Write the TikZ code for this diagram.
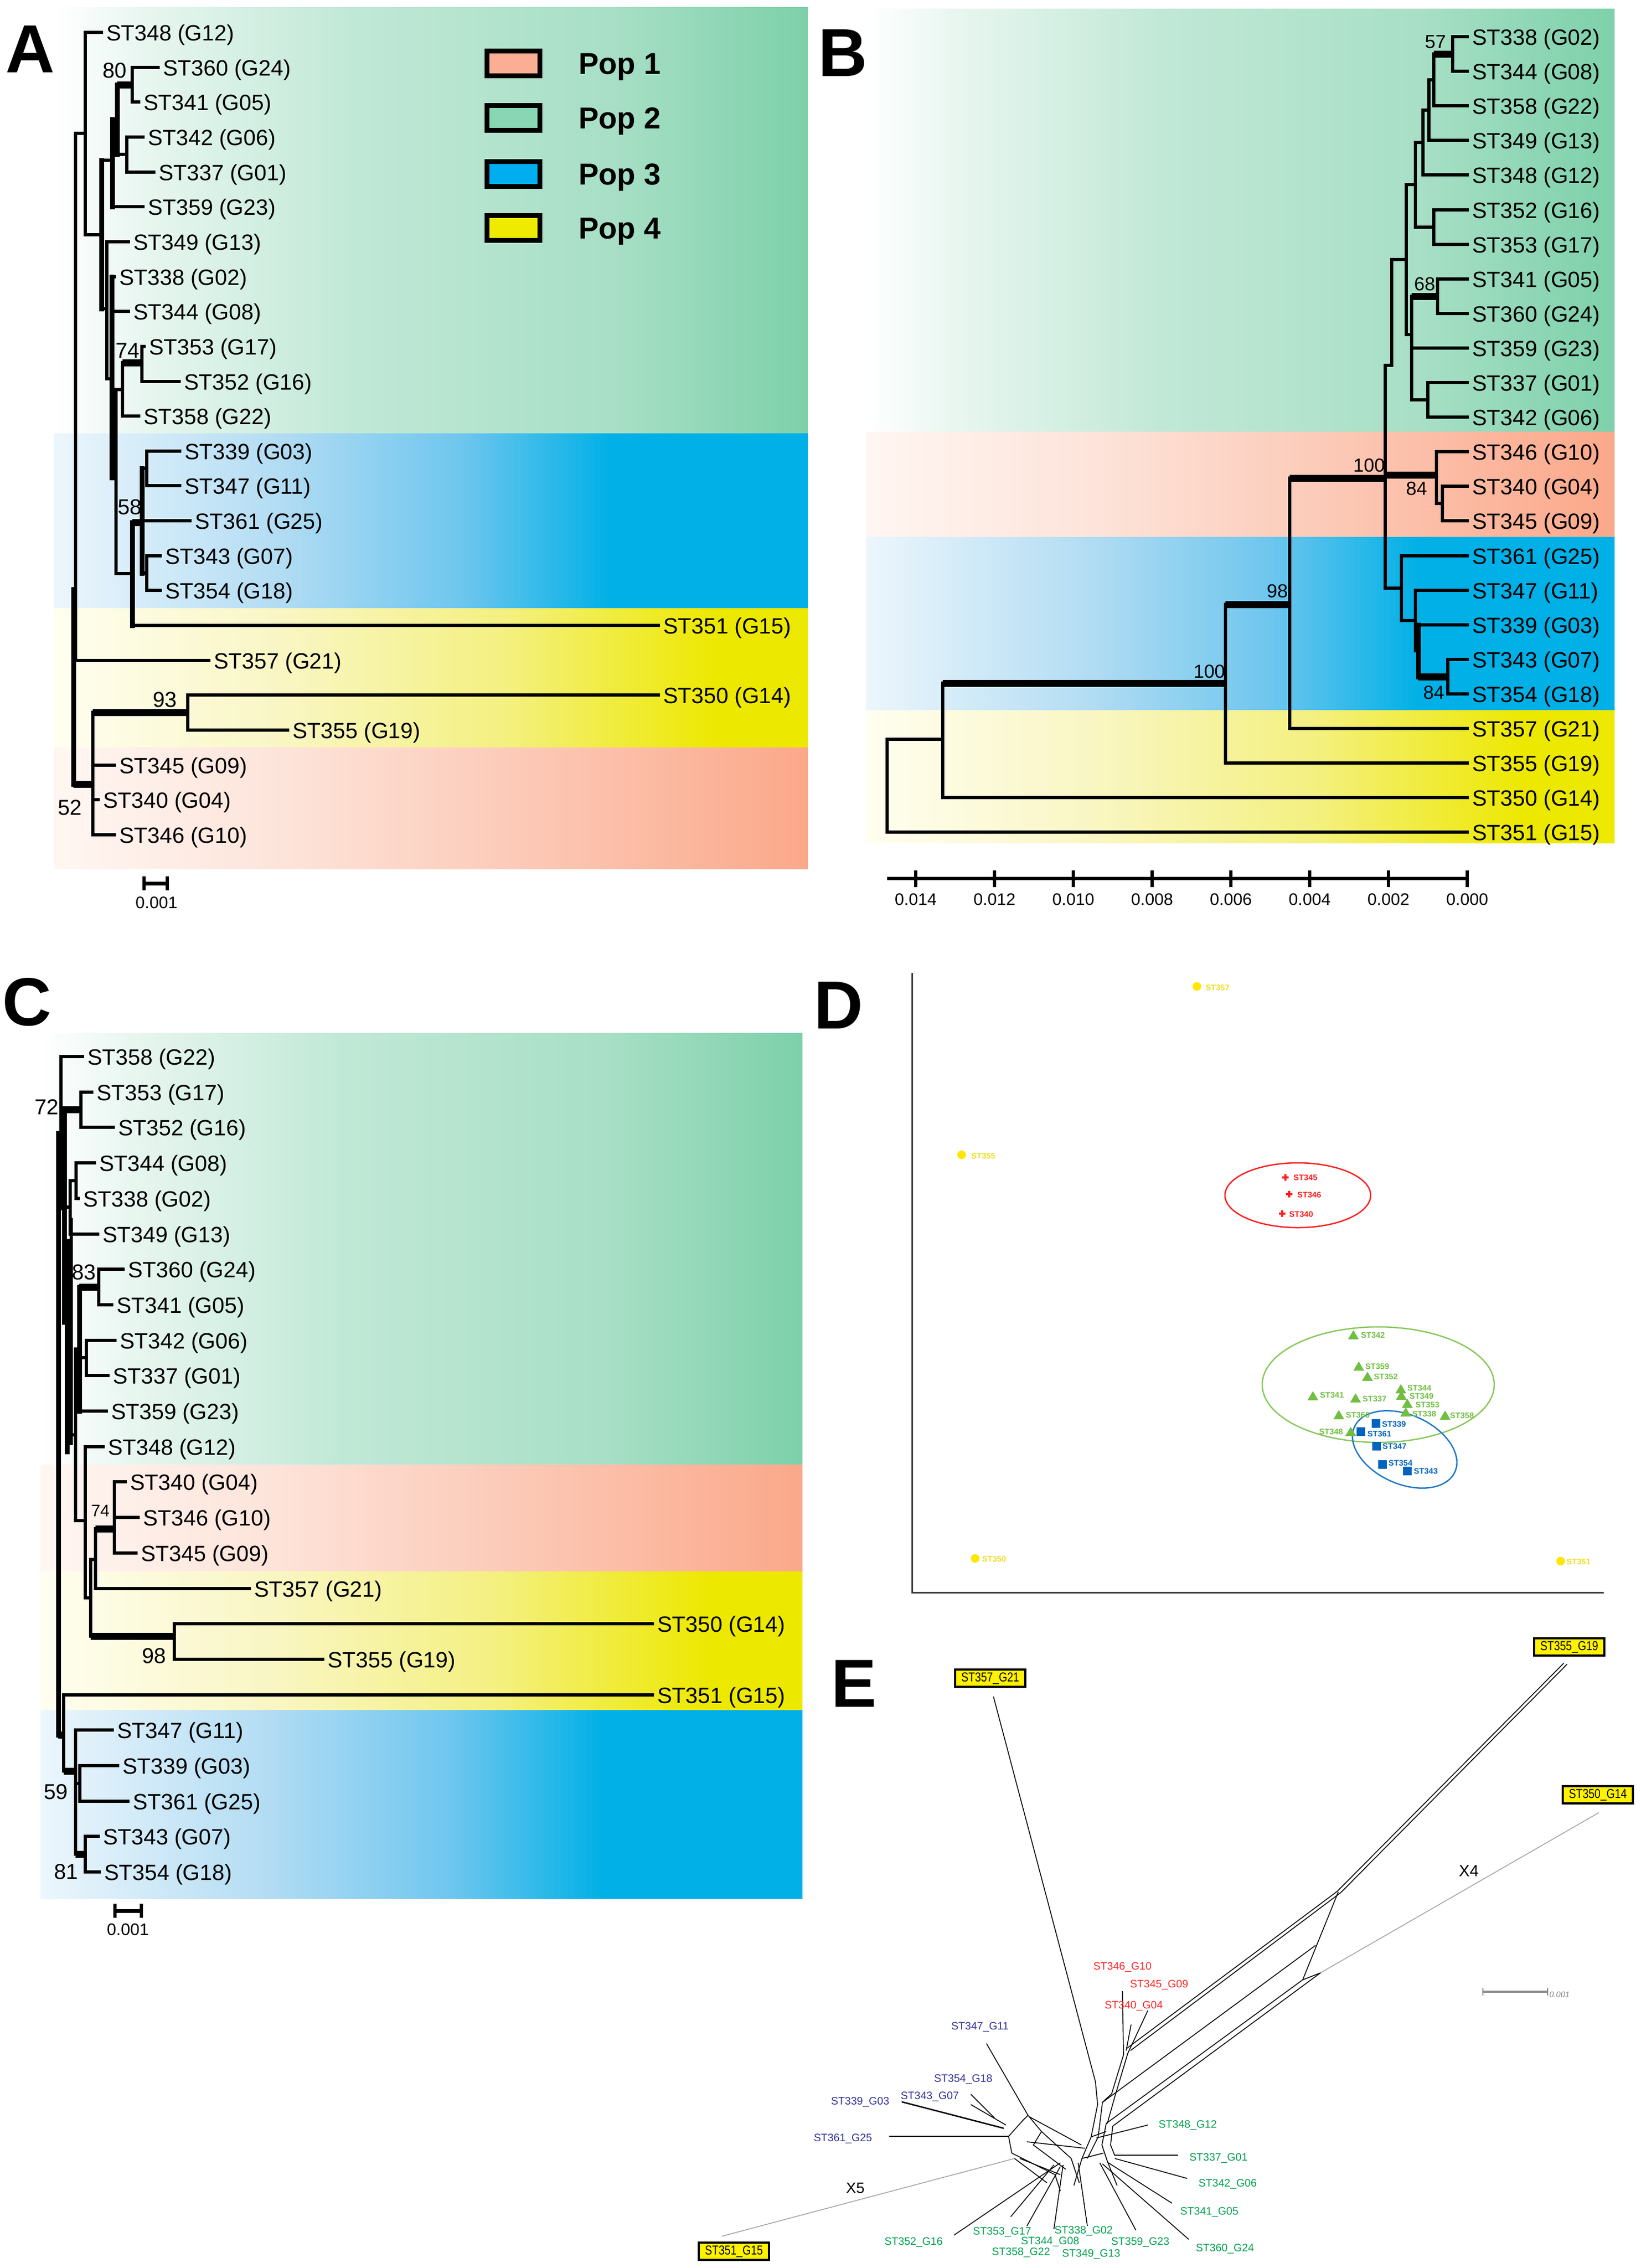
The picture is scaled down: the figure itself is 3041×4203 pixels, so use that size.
\documentclass[tikz,border=0pt]{standalone}
\usepackage{fontspec}
\setmainfont{Liberation Sans}
\newfontfamily\narrowfont[FakeStretch=0.83]{Liberation Sans}
\definecolor{gA}{RGB}{232,246,240}
\definecolor{gB}{RGB}{192,232,214}
\definecolor{gC}{RGB}{168,223,198}
\definecolor{gD}{RGB}{125,208,170}
\definecolor{pA}{RGB}{255,246,242}
\definecolor{pB}{RGB}{253,228,218}
\definecolor{pC}{RGB}{252,203,185}
\definecolor{pD}{RGB}{251,168,138}
\definecolor{bA}{RGB}{236,246,252}
\definecolor{bB}{RGB}{178,220,243}
\definecolor{bC}{RGB}{110,198,238}
\definecolor{bD}{RGB}{0,176,230}
\definecolor{yA}{RGB}{255,254,240}
\definecolor{yB}{RGB}{249,246,196}
\definecolor{yC}{RGB}{244,240,128}
\definecolor{yD}{RGB}{237,232,0}
\definecolor{legP}{RGB}{251,174,148}
\definecolor{legG}{RGB}{136,214,180}
\definecolor{legB}{RGB}{0,174,239}
\definecolor{legY}{RGB}{238,234,0}
\definecolor{dYel}{RGB}{255,230,0}
\definecolor{dYelT}{RGB}{236,222,40}
\definecolor{dRed}{RGB}{255,30,30}
\definecolor{dGrn}{RGB}{112,190,66}
\definecolor{dGrnE}{RGB}{135,200,90}
\definecolor{dBlu}{RGB}{0,100,190}
\definecolor{dBluE}{RGB}{30,120,200}
\definecolor{eRed}{RGB}{255,40,40}
\definecolor{eBlu}{RGB}{50,50,150}
\definecolor{eGrn}{RGB}{0,160,80}
\definecolor{eYel}{RGB}{255,242,0}
\definecolor{eGry}{RGB}{165,165,165}
\pgfdeclarehorizontalshading{gband}{100bp}{color(0bp)=(white); color(25bp)=(white); color(31bp)=(gA); color(45bp)=(gB); color(62bp)=(gC); color(75bp)=(gD); color(100bp)=(gD)}
\pgfdeclarehorizontalshading{pband}{100bp}{color(0bp)=(pA); color(25bp)=(pA); color(40bp)=(pB); color(55bp)=(pC); color(75bp)=(pD); color(100bp)=(pD)}
\pgfdeclarehorizontalshading{bband}{100bp}{color(0bp)=(bA); color(25bp)=(bA); color(40bp)=(bB); color(52bp)=(bC); color(62bp)=(bD); color(100bp)=(bD)}
\pgfdeclarehorizontalshading{yband}{100bp}{color(0bp)=(yA); color(25bp)=(yA); color(40bp)=(yB); color(55bp)=(yC); color(69bp)=(yD); color(100bp)=(yD)}
\tikzset{
  tl/.style={line width=6pt, line cap=rect},
  tkh/.style={line width=13pt},
  tkv/.style={line width=9pt, line cap=rect},
  tlab/.style={font=\fontsize{41}{41}\selectfont, anchor=base west, inner sep=0pt},
  sv/.style={font=\fontsize{40}{40}\selectfont, inner sep=0pt},
  svb/.style={font=\fontsize{35}{35}\selectfont, inner sep=0pt},
  svs/.style={font=\fontsize{31}{31}\selectfont, inner sep=0pt},
  panel/.style={font=\bfseries\fontsize{126}{126}\selectfont, inner sep=0pt},
  legbox/.style={draw=black, line width=9pt, minimum width=98pt, minimum height=46pt, inner sep=0pt},
  legtxt/.style={font=\bfseries\fontsize{56}{56}\selectfont, anchor=base west, inner sep=0pt},
  dlab/.style={font=\bfseries\fontsize{15}{15}\selectfont, anchor=west, inner sep=0pt},
  ebox/.style={draw=black, line width=3.5pt, fill=eYel, font=\narrowfont\fontsize{24}{24}\selectfont, minimum width=130pt, minimum height=32pt, inner sep=0pt},
  elab/.style={font=\fontsize{20}{20}\selectfont, inner sep=0pt},
  enet/.style={line width=1.6pt, black},
  egry/.style={line width=1.6pt, eGry},
}
\newcommand\Hs[3]{\draw[tl] (#1,#3) -- (#2,#3);}
\newcommand\Vs[3]{\draw[tl] (#1,#2) -- (#1,#3);}
\newcommand\Hk[3]{\draw[tkh] (#1,#3) -- (#2,#3);}
\newcommand\Vk[3]{\draw[tkv] (#1,#2) -- (#1,#3);}
\newcommand\Tip[5]{\draw[tl] (#1,#3) -- (#2,#3); \node[tlab] (#4) at ({#2+9},{#3+15}) {#5};}
\newcommand\Tri[2]{\fill[dGrn] ({#1-10},{#2+8}) -- ({#1+10},{#2+8}) -- (#1,{#2-9}) -- cycle;}
\newcommand\Sqr[2]{\fill[dBlu] ({#1-8},{#2-8}) rectangle ({#1+8},{#2+8});}
\newcommand\Crs[2]{\draw[dRed, line width=4pt] ({#1-6},#2) -- ({#1+6},#2) (#1,{#2-6}) -- (#1,{#2+6});}
\begin{document}
\begin{tikzpicture}[x=1pt,y=-1pt]
\useasboundingbox (0,0) rectangle (3041,4203);
\fill[white] (0,0) rectangle (3041,4203);
% ================= PANEL A =================
\shade[shading=gband] (100,13) rectangle (1497,803);
\shade[shading=bband] (100,803) rectangle (1497,1127);
\shade[shading=yband] (100,1127) rectangle (1497,1385);
\shade[shading=pband] (100,1385) rectangle (1497,1610);
\node[panel] (pA) at (56,91) {A};
% legend
\node[legbox, fill=legP] (l1) at (951,117) {};
\node[legbox, fill=legG] (l2) at (951,218) {};
\node[legbox, fill=legB] (l3) at (951,322) {};
\node[legbox, fill=legY] (l4) at (951,422) {};
\node[legtxt] (t1) at (1072,137) {Pop 1};
\node[legtxt] (t2) at (1072,238) {Pop 2};
\node[legtxt] (t3) at (1072,342) {Pop 3};
\node[legtxt] (t4) at (1072,442) {Pop 4};
% tips
\Tip{158}{188}{60}{a348}{ST348 (G12)}
\Tip{245}{293}{125}{a360}{ST360 (G24)}
\Tip{245}{257}{189}{a341}{ST341 (G05)}
\Tip{235}{265}{254}{a342}{ST342 (G06)}
\Tip{235}{285}{319}{a337}{ST337 (G01)}
\Tip{208}{265}{383}{a359}{ST359 (G23)}
\Tip{198}{238}{448}{a349}{ST349 (G13)}
\Tip{207}{212}{513}{a338}{ST338 (G02)}
\Tip{207}{238}{577}{a344}{ST344 (G08)}
\Tip{263}{267}{642}{a353}{ST353 (G17)}
\Tip{263}{332}{707}{a352}{ST352 (G16)}
\Tip{227}{257}{771}{a358}{ST358 (G22)}
\Tip{272}{333}{836}{a339}{ST339 (G03)}
\Tip{272}{333}{900}{a347}{ST347 (G11)}
\Tip{263}{352}{965}{a361}{ST361 (G25)}
\Tip{272}{297}{1030}{a343}{ST343 (G07)}
\Tip{272}{297}{1094}{a354}{ST354 (G18)}
\Tip{245}{1220}{1159}{a351}{ST351 (G15)}
\Tip{140}{387}{1224}{a357}{ST357 (G21)}
\Tip{348}{1220}{1288}{a350}{ST350 (G14)}
\Tip{348}{533}{1353}{a355}{ST355 (G19)}
\Tip{172}{212}{1418}{a345}{ST345 (G09)}
\Tip{172}{182}{1482}{a340}{ST340 (G04)}
\Tip{172}{212}{1547}{a346}{ST346 (G10)}
% internal
\Vs{245}{125}{189} \Hk{217}{245}{157}
\Vs{235}{254}{319} \Hs{217}{235}{286}
\Vk{217}{157}{286} \Hs{208}{217}{221}
\Vk{208}{221}{383} \Hs{188}{208}{297}
\Vs{263}{642}{707} \Hk{227}{263}{672}
\Vs{227}{672}{771} \Hs{215}{227}{722}
\Vs{272}{836}{900} \Hs{263}{272}{868}
\Vs{272}{1030}{1094} \Hs{263}{272}{1062}
\Vk{263}{868}{1062} \Hk{245}{263}{968}
\Vk{245}{968}{1159} \Hs{215}{245}{1063}
\Vs{215}{722}{1063} \Hs{207}{215}{885}
\Vk{207}{513}{885} \Hs{198}{207}{702}
\Vs{198}{448}{702} \Hs{188}{198}{572}
\Vk{188}{297}{572} \Hs{158}{188}{435}
\Vs{158}{60}{435} \Hs{140}{158}{247}
\Vs{140}{247}{1224}
\Vk{136}{1092}{1453} \Hk{136}{172}{1453}
\Vs{172}{1320}{1547} \Hk{172}{348}{1320}
\Vs{348}{1288}{1353}
\node[sv] (a80) at (213,131) {80};
\node[sv] (a74) at (237,650) {74};
\node[sv] (a58) at (241,940) {58};
\node[sv] (a93) at (306,1297) {93};
\node[sv] (a52) at (130,1497) {52};
% scale bar A
\draw[line width=7pt] (267,1637) -- (310,1637);
\draw[line width=6pt] (267,1624) -- (267,1650) (310,1624) -- (310,1650);
\node[svs] (asc) at (290,1673) {0.001};
% ================= PANEL B =================
\shade[shading=gband] (1605,16) rectangle (2992,800);
\shade[shading=pband] (1605,800) rectangle (2992,995);
\shade[shading=bband] (1605,995) rectangle (2992,1316);
\shade[shading=yband] (1605,1316) rectangle (2992,1562);
\node[panel] (pB) at (1562,98) {B};
\Tip{2692}{2719}{68}{b338}{ST338 (G02)}
\Tip{2692}{2719}{132}{b344}{ST344 (G08)}
\Tip{2657}{2719}{196}{b358}{ST358 (G22)}
\Tip{2648}{2719}{260}{b349}{ST349 (G13)}
\Tip{2637}{2719}{324}{b348}{ST348 (G12)}
\Tip{2657}{2719}{389}{b352}{ST352 (G16)}
\Tip{2657}{2719}{453}{b353}{ST353 (G17)}
\Tip{2664}{2719}{517}{b341}{ST341 (G05)}
\Tip{2664}{2719}{581}{b360}{ST360 (G24)}
\Tip{2616}{2719}{645}{b359}{ST359 (G23)}
\Tip{2646}{2719}{709}{b337}{ST337 (G01)}
\Tip{2646}{2719}{773}{b342}{ST342 (G06)}
\Tip{2662}{2719}{837}{b346}{ST346 (G10)}
\Tip{2673}{2719}{901}{b340}{ST340 (G04)}
\Tip{2673}{2719}{965}{b345}{ST345 (G09)}
\Tip{2597}{2719}{1030}{b361}{ST361 (G25)}
\Tip{2623}{2719}{1094}{b347}{ST347 (G11)}
\Tip{2628}{2719}{1158}{b339}{ST339 (G03)}
\Tip{2683}{2719}{1222}{b343}{ST343 (G07)}
\Tip{2683}{2719}{1286}{b354}{ST354 (G18)}
\Tip{2390}{2719}{1350}{b357}{ST357 (G21)}
\Tip{2271}{2719}{1414}{b355}{ST355 (G19)}
\Tip{1747}{2719}{1478}{b350}{ST350 (G14)}
\Tip{1644}{2719}{1542}{b351}{ST351 (G15)}
\Vs{2692}{68}{132} \Hk{2657}{2692}{100}
\Vs{2657}{100}{196}
\Hs{2648}{2657}{148} \Vs{2648}{148}{260}
\Hs{2637}{2648}{204} \Vs{2637}{204}{324}
\Hs{2623}{2637}{264} \Vs{2623}{264}{421} \Hs{2623}{2657}{421} \Vs{2657}{389}{453}
\Hs{2606}{2623}{342} \Vs{2606}{342}{620}
\Hk{2616}{2664}{549} \Vs{2664}{517}{581}
\Vs{2616}{549}{741} \Hs{2616}{2646}{741} \Vs{2646}{709}{773}
\Hs{2606}{2616}{620}
\Hs{2579}{2606}{481} \Vs{2579}{481}{677} \Hs{2567}{2579}{677}
\Vs{2567}{677}{1090}
\Hk{2567}{2662}{880} \Vs{2662}{837}{933} \Hs{2662}{2673}{933} \Vs{2673}{901}{965}
\Hs{2567}{2597}{1090} \Vs{2597}{1030}{1150} \Hs{2597}{2623}{1150} \Vs{2623}{1094}{1206} \Hs{2623}{2628}{1206}
\Vk{2628}{1158}{1254} \Hk{2628}{2683}{1254} \Vs{2683}{1222}{1286}
\Hk{2390}{2567}{886} \Vs{2390}{886}{1350}
\Hk{2271}{2390}{1120} \Vs{2271}{1120}{1414}
\Hk{1747}{2271}{1266} \Vs{1747}{1266}{1478}
\Hs{1644}{1747}{1370} \Vs{1644}{1370}{1542}
\node[svb] (b57) at (2660,78) {57};
\node[svb] (b68) at (2640,526) {68};
\node[svb] (b100a) at (2537,862) {100};
\node[svb] (b84a) at (2625,905) {84};
\node[svb] (b98) at (2367,1095) {98};
\node[svb] (b100b) at (2241,1244) {100};
\node[svb] (b84b) at (2657,1283) {84};
% axis B
\draw[line width=6pt] (1644,1628) -- (2719,1628);
\foreach \xx/\tt in {1697/0.014,1843/0.012,1989/0.010,2135/0.008,2281/0.006,2427/0.004,2573/0.002,2719/0.000}{
  \draw[line width=6pt] (\xx,1613) -- (\xx,1644);
  \node[svs] at (\xx,1667) {\tt};
}
% ================= PANEL C =================
\shade[shading=gband] (75,1914) rectangle (1487,2714);
\shade[shading=pband] (75,2714) rectangle (1487,2912);
\shade[shading=yband] (75,2912) rectangle (1487,3169);
\shade[shading=bband] (75,3169) rectangle (1487,3518);
\node[panel] (pC) at (50,1857) {C};
\Tip{113}{153}{1958}{c358}{ST358 (G22)}
\Tip{150}{170}{2024}{c353}{ST353 (G17)}
\Tip{150}{210}{2089}{c352}{ST352 (G16)}
\Tip{141}{175}{2155}{c344}{ST344 (G08)}
\Tip{141}{145}{2221}{c338}{ST338 (G02)}
\Tip{130}{181}{2287}{c349}{ST349 (G13)}
\Tip{183}{228}{2352}{c360}{ST360 (G24)}
\Tip{183}{207}{2418}{c341}{ST341 (G05)}
\Tip{160}{213}{2484}{c342}{ST342 (G06)}
\Tip{160}{200}{2549}{c337}{ST337 (G01)}
\Tip{147}{197}{2615}{c359}{ST359 (G23)}
\Tip{158}{191}{2681}{c348}{ST348 (G12)}
\Tip{212}{232}{2746}{c340}{ST340 (G04)}
\Tip{212}{256}{2812}{c346}{ST346 (G10)}
\Tip{212}{252}{2878}{c345}{ST345 (G09)}
\Tip{177}{462}{2944}{c357}{ST357 (G21)}
\Tip{323}{1209}{3009}{c350}{ST350 (G14)}
\Tip{323}{598}{3075}{c355}{ST355 (G19)}
\Tip{118}{1209}{3141}{c351}{ST351 (G15)}
\Tip{140}{208}{3206}{c347}{ST347 (G11)}
\Tip{148}{218}{3272}{c339}{ST339 (G03)}
\Tip{148}{237}{3338}{c361}{ST361 (G25)}
\Tip{158}{182}{3403}{c343}{ST343 (G07)}
\Tip{158}{184}{3469}{c354}{ST354 (G18)}
\Vs{113}{1958}{2240} \Hk{113}{150}{2056} \Vs{150}{2024}{2089}
\Vk{119}{2056}{2450}
\Vk{108}{2100}{3215} \Hs{108}{113}{2100}
\Vs{130}{2188}{2287} \Hs{119}{130}{2237}
\Vs{141}{2155}{2221} \Hs{130}{141}{2188}
\Vk{124}{2300}{2690}
\Vs{132}{2260}{2675} \Hs{132}{140}{2659}
\Vs{140}{2500}{2818}
\Vk{147}{2385}{2615} \Hs{140}{147}{2500}
\Hk{147}{183}{2385} \Vs{183}{2352}{2418}
\Vs{160}{2484}{2549} \Hs{147}{160}{2516}
\Hs{140}{158}{2818} \Vs{158}{2681}{2961}
\Hs{158}{168}{2961} \Vs{168}{2890}{3032}
\Hs{168}{177}{2890} \Vs{177}{2833}{2944}
\Hk{177}{212}{2833} \Vs{212}{2746}{2878}
\Hk{168}{323}{3032} \Vs{323}{3009}{3075}
\Hk{108}{118}{3215} \Vs{118}{3141}{3282}
\Hk{118}{140}{3282} \Vs{140}{3206}{3436}
\Hs{140}{148}{3305} \Vs{148}{3272}{3338}
\Hk{140}{158}{3436} \Vs{158}{3403}{3469}
\node[sv] (c72) at (87,2052) {72};
\node[sv] (c83) at (156,2358) {83};
\node[svs] (c74) at (186,2800) {74};
\node[sv] (c98) at (286,3069) {98};
\node[sv] (c59) at (104,3321) {59};
\node[sv] (c81) at (123,3469) {81};
\draw[line width=7pt] (213,3541) -- (262,3541);
\draw[line width=6pt] (213,3528) -- (213,3554) (262,3528) -- (262,3554);
\node[svs] (csc) at (237,3576) {0.001};
% ================= PANEL D =================
\node[panel] (pD) at (1554,1863) {D};
\draw[line width=3pt, black!75] (1690,1803) -- (1690,2951) -- (2972,2951);
\draw[dRed, line width=2.5pt] (2405,2215) ellipse (135 and 60);
\draw[dGrnE, line width=2.5pt] (2554,2566) ellipse (215 and 107);
\draw[dBluE, line width=2.5pt, rotate around={-24:(2603,2686)}] (2603,2686) ellipse (102 and 64);
\fill[dYel] (2218,1828) circle (8); \node[dlab, text=dYelT] (d357) at (2234,1830) {ST357};
\fill[dYel] (1782,2140) circle (8); \node[dlab, text=dYelT] (d355) at (1800,2142) {ST355};
\fill[dYel] (1807,2888) circle (8); \node[dlab, text=dYelT] (d350) at (1820,2889) {ST350};
\fill[dYel] (2892,2893) circle (8); \node[dlab, text=dYelT] (d351) at (2903,2894) {ST351};
\Crs{2382}{2182} \node[dlab, text=dRed] (d345) at (2397,2182) {ST345};
\Crs{2389}{2213} \node[dlab, text=dRed] (d346) at (2404,2214) {ST346};
\Crs{2376}{2249} \node[dlab, text=dRed] (d340) at (2389,2250) {ST340};
\Tri{2508}{2474} \node[dlab, text=dGrn] (d342) at (2522,2474) {ST342};
\Tri{2518}{2532} \node[dlab, text=dGrn] (d359) at (2530,2532) {ST359};
\Tri{2534}{2551} \node[dlab, text=dGrn] (d352) at (2546,2551) {ST352};
\Tri{2596}{2574} \node[dlab, text=dGrn] (d344) at (2608,2572) {ST344};
\Tri{2597}{2586} \node[dlab, text=dGrn] (d349) at (2612,2587) {ST349};
\Tri{2433}{2587} \node[dlab, text=dGrn] (d341) at (2446,2585) {ST341};
\Tri{2512}{2591} \node[dlab, text=dGrn] (d337) at (2525,2592) {ST337};
\Tri{2608}{2601} \node[dlab, text=dGrn] (d353) at (2623,2603) {ST353};
\Tri{2605}{2617} \node[dlab, text=dGrn] (d338) at (2617,2620) {ST338};
\Tri{2678}{2623} \node[dlab, text=dGrn] (d358) at (2687,2623) {ST358};
\Tri{2481}{2622} \node[dlab, text=dGrn] (d360) at (2494,2622) {ST360};
\Tri{2503}{2653} \node[dlab, text=dGrn, anchor=east] (d348) at (2489,2653) {ST348};
\Sqr{2550}{2638} \node[dlab, text=dBlu] (d339) at (2561,2639) {ST339};
\Sqr{2522}{2653} \node[dlab, text=dBlu] (d361) at (2534,2657) {ST361};
\Sqr{2551}{2680} \node[dlab, text=dBlu] (d347) at (2562,2680) {ST347};
\Sqr{2562}{2714} \node[dlab, text=dBlu] (d354) at (2573,2711) {ST354};
\Sqr{2608}{2726} \node[dlab, text=dBlu] (d343) at (2620,2726) {ST343};
% ================= PANEL E =================
\node[panel] (pE) at (1583,3120) {E};
% long branches
\draw[enet] (1841,3144) -- (2030,3858) -- (2034,3900);
\draw[enet] (2898,3082) -- (2478,3505) -- (2088,3796);
\draw[enet] (2904,3084) -- (2485,3507) -- (2095,3800);
\draw[enet] (2480,3506) -- (2414,3669);
\draw[enet] (2438,3605) -- (2043,3896);
\draw[egry] (2963,3359) -- (2447,3656);
\draw[enet] (2447,3656) -- (2062,3940);
\draw[enet] (2414,3669) -- (2050,3935);
\draw[enet] (2414,3669) -- (2447,3656);
% red leaves
\draw[enet] (2080,3690) -- (2082,3808);
\draw[enet] (2127,3726) -- (2090,3805);
\draw[enet] (2096,3752) -- (2087,3800);
\draw[enet] (2082,3808) -- (2060,3880) -- (2043,3896);
\draw[enet] (2090,3805) -- (2066,3885) -- (2052,3935);
% blue leaves
\draw[enet] (1828,3787) -- (1905,3920);
\draw[enet] (1799,3881) -- (1843,3925);
\draw[enet] (1799,3900) -- (1864,3938);
\draw[enet, line width=2.6pt] (1671,3895) -- (1860,3944);
\draw[enet, line width=2.6pt] (1648,3959) -- (1869,3959);
\draw[egry] (1338,4144) -- (1880,4000);
% central web
\draw[enet] (1905,3920) -- (1930,3950) -- (1985,4000) -- (2000,4045);
\draw[enet] (1869,3959) -- (1895,3930) -- (1905,3920);
\draw[enet] (1869,3959) -- (1875,3990) -- (1955,4030) -- (1965,4060);
\draw[enet] (1880,4000) -- (1940,4045);
\draw[enet] (1930,3950) -- (1915,3975) -- (1975,4020);
\draw[enet] (2034,3900) -- (2022,3960) -- (2005,4000) -- (1990,4050);
\draw[enet] (2043,3896) -- (2035,3960) -- (2015,4000);
\draw[enet] (2050,3935) -- (2042,3975) -- (2052,4005) -- (2070,4050);
\draw[enet] (2062,3940) -- (2058,3975) -- (2066,3995);
\draw[enet] (1908,3923) -- (2004,3975);
\draw[enet] (1903,3969) -- (2010,3981);
\draw[enet] (1890,4000) -- (1965,4030);
\draw[enet] (2022,3960) -- (2050,3950);
\draw[enet] (2005,4000) -- (2045,3990);
% green spokes
\draw[enet] (2127,3938) -- (2032,3962);
\draw[enet, line width=2.6pt] (2183,3994) -- (2066,3994);
\draw[enet] (2200,4037) -- (2066,4000);
\draw[enet] (2172,4083) -- (2054,4008);
\draw[enet] (2203,4150) -- (2043,4010);
\draw[enet] (2105,4133) -- (2038,4008);
\draw[enet] (2015,4125) -- (1998,4008);
\draw[enet] (1953,4131) -- (1970,4012);
\draw[enet] (1903,4125) -- (1965,4015);
\draw[enet] (1873,4108) -- (1953,4012);
\draw[enet] (1768,4142) -- (1965,4008);
% boxes
\node[ebox] (e357) at (1835,3110) {ST357\_G21};
\node[ebox] (e355) at (2908,3052) {ST355\_G19};
\node[ebox] (e350) at (2961,3326) {ST350\_G14};
\node[ebox] (e351) at (1360,4172) {ST351\_G15};
% labels
\node[elab, text=eRed] (l346) at (2080,3645) {ST346\_G10};
\node[elab, text=eRed] (l345) at (2148,3678) {ST345\_G09};
\node[elab, text=eRed] (l340) at (2101,3717) {ST340\_G04};
\node[elab, text=eBlu] (l347) at (1816,3756) {ST347\_G11};
\node[elab, text=eBlu] (l354) at (1785,3853) {ST354\_G18};
\node[elab, text=eBlu] (l343) at (1723,3885) {ST343\_G07};
\node[elab, text=eBlu] (l339) at (1594,3895) {ST339\_G03};
\node[elab, text=eBlu] (l361) at (1562,3963) {ST361\_G25};
\node[elab, text=eGrn] (l348) at (2201,3938) {ST348\_G12};
\node[elab, text=eGrn] (l337) at (2258,3999) {ST337\_G01};
\node[elab, text=eGrn] (l342) at (2275,4047) {ST342\_G06};
\node[elab, text=eGrn] (l341) at (2241,4099) {ST341\_G05};
\node[elab, text=eGrn] (l360) at (2270,4167) {ST360\_G24};
\node[elab, text=eGrn] (l359) at (2113,4155) {ST359\_G23};
\node[elab, text=eGrn] (l349) at (2022,4177) {ST349\_G13};
\node[elab, text=eGrn] (l338) at (2008,4134) {ST338\_G02};
\node[elab, text=eGrn] (l344) at (1946,4154) {ST344\_G08};
\node[elab, text=eGrn] (l358) at (1892,4174) {ST358\_G22};
\node[elab, text=eGrn] (l353) at (1857,4136) {ST353\_G17};
\node[elab, text=eGrn] (l352) at (1693,4155) {ST352\_G16};
\node[font=\fontsize{30}{30}\selectfont, inner sep=0pt] (x4) at (2722,3467) {X4};
\node[font=\fontsize{28}{28}\selectfont, inner sep=0pt] (x5) at (1585,4055) {X5};
\draw[line width=4pt, black!45] (2748,3691) -- (2868,3691);
\draw[line width=1.5pt, black!45] (2748,3684) -- (2748,3698) (2868,3684) -- (2868,3698);
\node[font=\itshape\fontsize{15}{15}\selectfont, text=black!50, anchor=west, inner sep=0pt] (esc) at (2871,3696) {0.001};
\end{tikzpicture}
\end{document}
